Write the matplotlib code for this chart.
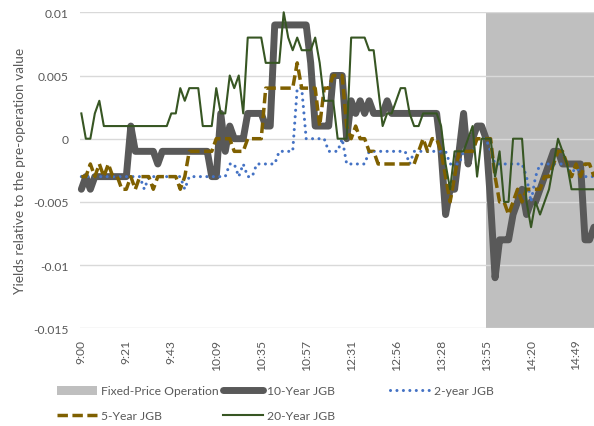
import numpy as np
import matplotlib
matplotlib.use("Agg")
import matplotlib.pyplot as plt
from matplotlib.patches import Patch
from matplotlib.lines import Line2D

# x axis: one category per observation, a time label on every 10th
tick_labels = ["9:00", "9:21", "9:43", "10:09", "10:35", "10:57",
               "12:31", "12:56", "13:28", "13:55", "14:20", "14:49"]
label_step = 10
op_start = "13:55"   # fixed-price operation runs from here to the close

# yields relative to the pre-operation value, in units of 0.001
jgb_10y = [-4, -3, -4, -3, -3, -3, -3, -3, -3, -3, -3, 1, -1, -1, -1, -1, -1, -2, -1, -1,
           -1, -1, -1, -1, -1, -1, -1, -1, -1, -3, -3, 2, -1, 1, 0, 0, 0, 2, 2, 2,
           2, 1, 1, 9, 9, 9, 9, 9, 9, 9, 9, 6, 1, 1, 1, 1, 5, 5, 5, 0,
           3, 2, 3, 2, 3, 2, 2, 2, 3, 2, 2, 2, 2, 2, 2, 2, 2, 2, 2, 2,
           -1, -6, -4, -4, -1, 2, -2, 0, 1, 1, 0, -5, -11, -8, -8, -8, -6, -5, -4, -6,
           -5, -5, -4, -3, -2, -1, -1, -2, -2, -2, -2, -2, -8, -8, -7]
jgb_2y = [-3, -3, -3, -3, -3, -3, -3, -3, -3, -3, -3, -3, -3, -3, -4, -3, -3, -3, -3, -3,
          -3, -3, -3, -4, -3, -3, -3, -3, -3, -3, -3, -3, -3, -2, -2, -3, -2, -3, -3, -2,
          -2, -2, -2, -2, -1, -1, -1, -1, 4, 4, 0, 0, 0, 0, 0, -1, -1, -1, 0, -2,
          -2, -2, -2, -2, -1, -1, -1, -1, -1, -1, -1, -1, -1, -2, -1, -1, -1, -1, -1, -1,
          -1, -1, -2, -2, -2, -1, -1, -1, 0, 0, 0, -1, -2, -2, -2, -2, -2, -2, -2, -3,
          -5, -3, -2, -2, -2, -2, -2, -2, -2, -3, -2, -3, -3, -3, -3]
jgb_5y = [-3, -3, -2, -3, -2, -3, -2, -3, -3, -4, -4, -3, -4, -3, -3, -3, -4, -3, -3, -3,
          -3, -3, -4, -3, -1, -1, -1, -1, -1, -1, 0, 0, 0, 0, -1, -1, -1, 0, 0, 0,
          0, 4, 4, 4, 4, 4, 4, 4, 6, 4, 4, 4, 4, 1, 4, 4, 5, 5, 5, 1,
          0, 1, 0, 0, -1, -1, -2, -2, -2, -2, -2, -2, -2, -2, -2, -1, 0, -1, 0, 0,
          -1, -3, -5, -3, -1, -1, -1, -1, 0, 0, 0, 0, -3, -5, -5, -6, -5, -4, -5, -4,
          -4, -4, -4, -3, -3, -2, -1, -1, -2, -3, -2, -3, -2, -2, -3]
jgb_20y = [2, 0, 0, 2, 3, 1, 1, 1, 1, 1, 1, 1, 1, 1, 1, 1, 1, 1, 1, 1,
           2, 2, 4, 3, 4, 4, 4, 1, 1, 1, 4, 2, 2, 5, 4, 5, 2, 8, 8, 8,
           8, 6, 6, 6, 6, 10, 8, 7, 8, 7, 7, 7, 8, 6, 3, 3, 3, 0, 0, 0,
           8, 8, 8, 8, 7, 7, 4, 1, 2, 2, 3, 4, 4, 2, 1, 1, 2, 2, 2, 2,
           1, -2, -4, -1, -1, -1, 0, 1, -3, 0, 0, 0, -3, -1, -5, -5, 0, 0, 0, -5,
           -7, -5, -6, -5, -4, -2, 0, -1, -2, -4, -4, -4, -4, -4, -4]
unit = 0.001

y_ticks = [-0.015, -0.01, -0.005, 0, 0.005, 0.01]
y_tick_labels = ["-0.015", "-0.01", "-0.005", "0", "0.005", "0.01"]

TEXT = "#595959"
GRID = "#D9D9D9"
C_OP = "#BFBFBF"
C_10 = "#595959"
C_2 = "#4472C4"
C_5 = "#7F6000"
C_20 = "#375623"

plt.rcParams["font.family"] = ["Lato", "DejaVu Sans"]
plt.rcParams["font.size"] = 8.7

W, H = 594, 427
fig = plt.figure(figsize=(W / 100, H / 100), dpi=100)
ax = fig.add_axes([80 / W, 1 - 329.3 / H, 514 / W, 316 / H])

x = np.arange(len(jgb_10y))
in_op = x >= tick_labels.index(op_start) * label_step

# shaded operation window
ax.fill_between(x, 0, 1, where=in_op, transform=ax.get_xaxis_transform(),
                color=C_OP, lw=0, zorder=1)

style_10 = dict(color=C_10, lw=5, solid_joinstyle="round", solid_capstyle="round")
style_2 = dict(color=C_2, lw=2.2, linestyle=(0, (0.01, 2.1)), dash_capstyle="round")
style_5 = dict(color=C_5, lw=2.5, linestyle=(0, (3, 1.3)), dash_capstyle="butt")
style_20 = dict(color=C_20, lw=1.5, solid_joinstyle="round")

ax.plot(x, np.array(jgb_10y) * unit, zorder=2, clip_on=False, **style_10)
ax.plot(x, np.array(jgb_2y) * unit, zorder=3, clip_on=False, **style_2)
ax.plot(x, np.array(jgb_5y) * unit, zorder=4, clip_on=False, **style_5)
ax.plot(x, np.array(jgb_20y) * unit, zorder=5, clip_on=False, **style_20)

ax.set_xlim(-0.3, len(x) - 1)
ax.set_ylim(y_ticks[0], y_ticks[-1])
ax.set_yticks(y_ticks)
ax.set_yticklabels(y_tick_labels)
ax.set_xticks(np.arange(len(tick_labels)) * label_step)
ax.set_xticklabels(tick_labels, rotation=90, va="top", ha="center")
ax.tick_params(axis="y", length=0, colors=TEXT, pad=8.5)
ax.tick_params(axis="x", length=0, colors=TEXT, pad=7.5)
for s in ax.spines.values():
    s.set_visible(False)
ax.yaxis.grid(True, color=GRID, lw=1.0)
ax.xaxis.grid(False)

fig.text(20 / W, 1 - 171.3 / H, "Yields relative to the pre-operation value",
         rotation=90, ha="center", va="center", color=TEXT, fontsize=9.8)

# legend, laid out like the Excel one: three fixed-width columns
fs_px = plt.rcParams["font.size"] * 100 / 72
entries = [
    (Patch(color=C_OP, lw=0), "Fixed-Price Operation", 57, 392),
    (Line2D([], [], **style_10), "10-Year JGB", 223, 392),
    (Line2D([], [], **style_2), "2-year JGB", 390, 392),
    (Line2D([], [], **style_5), "5-Year JGB", 57, 417),
    (Line2D([], [], **style_20), "20-Year JGB", 223, 417),
]
for handle, label, px, py in entries:
    fig.legend([handle], [label], loc="center left",
               bbox_to_anchor=(px / W, 1 - py / H), frameon=False,
               borderpad=0, borderaxespad=0, handlelength=40 / fs_px,
               handletextpad=4 / fs_px, labelcolor=TEXT)

fig.savefig("out.png", dpi=100)
